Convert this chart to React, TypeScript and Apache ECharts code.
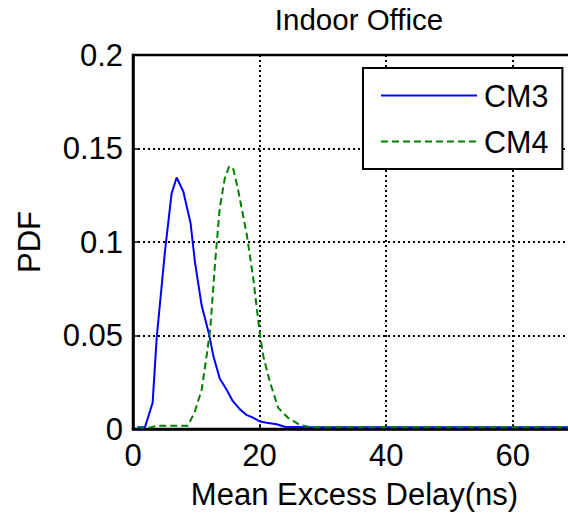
import React, { useEffect, useRef } from "react";
import * as echarts from "echarts";

const cm3Delay = [0.7, 1.9, 3.1, 3.75, 5.05, 6.1, 6.9, 7.95, 9.1, 9.8, 10.85, 12.0, 12.7, 13.7, 14.8, 15.75, 16.9, 18.0, 19.0, 20.1, 21.1, 22.7, 24.0, 28, 70];
const cm3Pdf = [0.001, 0.001, 0.014, 0.049, 0.095, 0.126, 0.1345, 0.127, 0.11, 0.089, 0.066, 0.051, 0.039, 0.027, 0.021, 0.015, 0.0105, 0.0074, 0.006, 0.004, 0.0034, 0.0025, 0.0012, 0.001, 0.001];

const cm4Delay = [0.7, 2.7, 4.0, 8.7, 9.8, 10.85, 11.5, 12.2, 12.95, 13.7, 14.5, 15.2, 15.85, 16.6, 18.0, 19.0, 20.1, 20.6, 21.6, 22.95, 24.5, 26.4, 28, 70];
const cm4Pdf = [0.0008, 0.0008, 0.0018, 0.0018, 0.0096, 0.021, 0.036, 0.053, 0.088, 0.118, 0.134, 0.1405, 0.139, 0.128, 0.1035, 0.0805, 0.0495, 0.0388, 0.0255, 0.0113, 0.006, 0.0021, 0.001, 0.001];

const seriesNames = ["CM3", "CM4"];
const chartTitle = "Indoor Office";
const xAxisName = "Mean Excess Delay(ns)";
const yAxisName = "PDF";

const FONT = "'Liberation Sans', Arial, sans-serif";
const FS = 31;

export default function App() {
  const ref = useRef<HTMLDivElement>(null);
  useEffect(() => {
    document.body.style.margin = "0";
    const chart = echarts.init(ref.current!, undefined, { renderer: "svg" });
    const zip = (xs: number[], ys: number[]) => xs.map((x, i) => [x, ys[i]]);
    chart.setOption({
      animation: false,
      backgroundColor: "#ffffff",
      textStyle: { fontFamily: FONT, color: "#000" },
      title: {
        text: chartTitle,
        left: 354,
        top: -1,
        textAlign: "center",
        textStyle: { fontFamily: FONT, fontSize: 29.5, fontWeight: "normal", color: "#000" },
      },
      legend: {
        orient: "vertical",
        left: 363,
        top: 68,
        padding: [12, 14, 12, 17],
        itemGap: 15,
        itemWidth: 96,
        itemHeight: 14,
        itemStyle: { opacity: 0 },
        borderColor: "#000",
        borderWidth: 2,
        backgroundColor: "#fff",
        textStyle: { fontFamily: FONT, fontSize: 30.5, color: "#000", lineHeight: 30, padding: [0, 0, 0, 2] },
        data: seriesNames,
      },
      grid: {
        left: 133,
        top: 55,
        right: -8,
        bottom: 87,
        show: true,
        borderColor: "#000",
        borderWidth: 2.5,
        outerBoundsMode: "none",
        containLabel: false,
      },
      xAxis: {
        type: "value",
        min: 0,
        max: 70,
        interval: 20,
        name: xAxisName,
        nameLocation: "middle",
        nameGap: 50,
        nameTextStyle: { fontFamily: FONT, fontSize: FS, color: "#000" },
        axisLine: { show: true, onZero: false, lineStyle: { color: "#000", width: 2.5 } },
        axisTick: { show: true, inside: true, length: 5, lineStyle: { color: "#000", width: 1.5 } },
        axisLabel: { fontFamily: FONT, fontSize: FS, color: "#000", margin: 11, showMaxLabel: false },
        splitLine: { show: true, lineStyle: { color: "#000", width: 2, type: [2, 3] } },
      },
      yAxis: {
        type: "value",
        min: 0,
        max: 0.2,
        interval: 0.05,
        name: yAxisName,
        nameLocation: "middle",
        nameGap: 88,
        nameRotate: 90,
        nameTextStyle: { fontFamily: FONT, fontSize: FS, color: "#000" },
        axisLine: { show: true, lineStyle: { color: "#000", width: 2.5 } },
        axisTick: { show: true, inside: true, length: 5, lineStyle: { color: "#000", width: 1.5 } },
        axisLabel: { fontFamily: FONT, fontSize: FS, color: "#000", margin: 10 },
        splitLine: { show: true, lineStyle: { color: "#000", width: 2, type: [2, 3] } },
      },
      series: [
        {
          name: seriesNames[0],
          type: "line",
          data: zip(cm3Delay, cm3Pdf),
          symbol: "none",
          lineStyle: { color: "#0000ff", width: 2, type: "solid" },
          itemStyle: { color: "#0000ff" },
        },
        {
          name: seriesNames[1],
          type: "line",
          data: zip(cm4Delay, cm4Pdf),
          symbol: "none",
          lineStyle: { color: "#008000", width: 2, type: [7, 4] },
          itemStyle: { color: "#008000" },
        },
      ],
    });
    return () => chart.dispose();
  }, []);
  return <div ref={ref} style={{ width: 568, height: 516 }} />;
}
